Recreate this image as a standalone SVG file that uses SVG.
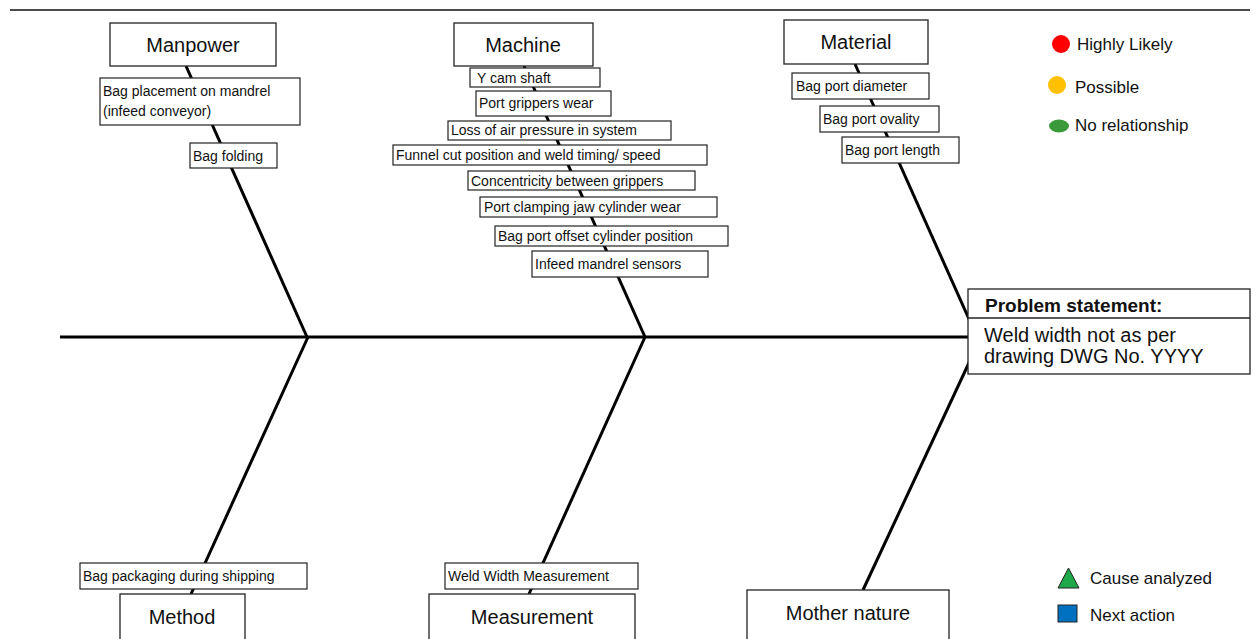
<svg xmlns="http://www.w3.org/2000/svg" width="1258" height="639" viewBox="0 0 1258 639">
<style>
text{font-family:"Liberation Sans",Arial,sans-serif;fill:#111}
.cat{fill:#fff;stroke:#222;stroke-width:1.3}
.sub{fill:#fff;stroke:#222;stroke-width:1.2}
.ct{font-size:20px;text-anchor:middle}
.st{font-size:14px}
.bone{stroke:#000;stroke-width:3;fill:none;stroke-linecap:butt}
.lg{font-size:17px}
</style>
<rect width="1258" height="639" fill="#fff"/>
<line x1="10" y1="10" x2="1250" y2="10" stroke="#111" stroke-width="1.5"/>
<g id="connectors">
<line class="bone" x1="60" y1="337" x2="970" y2="337"/>
<line class="bone" x1="186" y1="66" x2="307" y2="337"/>
<line class="bone" x1="524" y1="66" x2="645" y2="337"/>
<line class="bone" x1="855" y1="64" x2="977" y2="337"/>
<line class="bone" x1="308" y1="337" x2="191" y2="594"/>
<line class="bone" x1="645" y1="337" x2="529" y2="594"/>
<line class="bone" x1="981" y1="337" x2="863" y2="590"/>
</g>
<g id="manpower">
<rect class="cat" x="110" y="23" width="166" height="43"/>
<text class="ct" x="193" y="52">Manpower</text>
<rect class="sub" x="100" y="78" width="200" height="47"/>
<text class="st" x="103" y="96">Bag placement on mandrel</text>
<text class="st" x="103" y="116">(infeed conveyor)</text>
<rect class="sub" x="190" y="143" width="87" height="25"/>
<text class="st" x="193" y="161">Bag folding</text>
</g>
<g id="machine">
<rect class="cat" x="454" y="23" width="139" height="43"/>
<text class="ct" x="523" y="52">Machine</text>
<rect class="sub" x="470" y="68" width="130" height="19"/>
<text class="st" x="477" y="83">Y cam shaft</text>
<rect class="sub" x="476" y="91" width="135" height="25"/>
<text class="st" x="479" y="108">Port grippers wear</text>
<rect class="sub" x="448" y="121" width="223" height="19"/>
<text class="st" x="451" y="135">Loss of air pressure in system</text>
<rect class="sub" x="393" y="145" width="314" height="20"/>
<text class="st" x="396" y="160">Funnel cut position and weld timing/ speed</text>
<rect class="sub" x="468" y="171" width="227" height="19"/>
<text class="st" x="471" y="186">Concentricity between grippers</text>
<rect class="sub" x="480" y="197" width="237" height="20"/>
<text class="st" x="484" y="212">Port clamping jaw cylinder wear</text>
<rect class="sub" x="495" y="226" width="233" height="20"/>
<text class="st" x="498" y="241">Bag port offset cylinder position</text>
<rect class="sub" x="532" y="251" width="176" height="26"/>
<text class="st" x="535" y="269">Infeed mandrel sensors</text>
</g>
<g id="material">
<rect class="cat" x="784" y="20" width="144" height="44"/>
<text class="ct" x="856" y="49">Material</text>
<rect class="sub" x="792" y="73" width="137" height="26"/>
<text class="st" x="796" y="91">Bag port diameter</text>
<rect class="sub" x="820" y="106" width="119" height="26"/>
<text class="st" x="823" y="124">Bag port ovality</text>
<rect class="sub" x="842" y="137" width="117" height="26"/>
<text class="st" x="845" y="155">Bag port length</text>
</g>
<g id="problem">
<rect class="cat" x="968" y="289" width="282" height="85"/>
<line x1="968" y1="318" x2="1250" y2="318" stroke="#222" stroke-width="1.3"/>
<text x="985" y="312" font-size="19" font-weight="bold">Problem statement:</text>
<text x="984" y="342" font-size="20">Weld width not as per</text>
<text x="984" y="363" font-size="20">drawing DWG No. YYYY</text>
</g>
<g id="method">
<rect class="sub" x="80" y="563" width="227" height="26"/>
<text class="st" x="83" y="581">Bag packaging during shipping</text>
<rect class="cat" x="120" y="594" width="125" height="46"/>
<text class="ct" x="182" y="624">Method</text>
</g>
<g id="measurement">
<rect class="sub" x="445" y="563" width="193" height="26"/>
<text class="st" x="448" y="581">Weld Width Measurement</text>
<rect class="cat" x="429" y="594" width="206" height="46"/>
<text class="ct" x="532" y="624">Measurement</text>
</g>
<g id="mother-nature">
<rect class="cat" x="747" y="590" width="202" height="50"/>
<text class="ct" x="848" y="620">Mother nature</text>
</g>
<g id="legend">
<circle cx="1061" cy="44" r="9" fill="#ff0000"/>
<text class="lg" x="1077" y="50">Highly Likely</text>
<circle cx="1057" cy="85" r="9" fill="#ffc000"/>
<text class="lg" x="1075" y="93">Possible</text>
<ellipse cx="1059" cy="126" rx="10" ry="6.5" fill="#3a9a3a"/>
<text class="lg" x="1075" y="131">No relationship</text>
<polygon points="1058,588 1068.5,568 1079,588" fill="#1fa84a" stroke="#222" stroke-width="1"/>
<text class="lg" x="1090" y="584">Cause analyzed</text>
<rect x="1058" y="605" width="19" height="17" fill="#0070c0" stroke="#222" stroke-width="1"/>
<text class="lg" x="1090" y="621">Next action</text>
</g>
</svg>
